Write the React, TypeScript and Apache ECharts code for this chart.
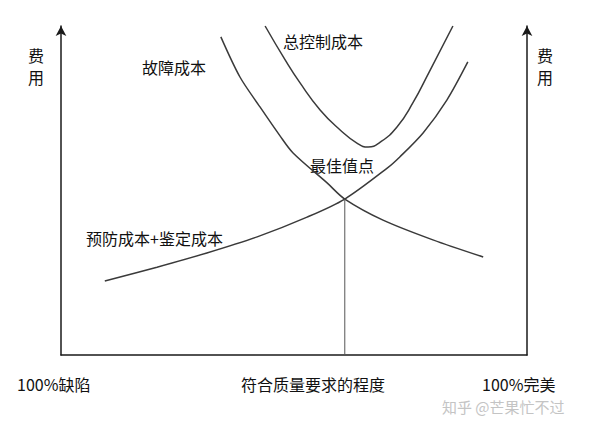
import React, { useEffect, useRef } from 'react';
import * as echarts from 'echarts';

// 横轴：符合质量要求的程度 (0 = 100%缺陷, 100 = 100%完美)，纵轴：费用
const failureX = [34.3, 38.4, 42.7, 47.0, 49.8, 57.1, 60.9, 69.1, 79.8, 90.6];
const failureY = [96.7, 84.5, 75.4, 66.6, 61.4, 52.3, 47.4, 41.0, 35.0, 29.8];

const preventionX = [9.4, 20.6, 31.3, 42.1, 52.8, 60.9, 70.0, 72.7, 77.7, 82.8, 87.3];
const preventionY = [22.5, 26.7, 31.0, 35.9, 41.9, 47.4, 56.8, 60.2, 67.5, 77.5, 89.1];

const totalX = [43.8, 48.1, 51.3, 55.6, 59.9, 63.5, 65.9, 68.5, 72.1, 75.5, 79.0, 84.1];
const totalY = [100, 89.7, 82.7, 74.5, 68.4, 64.4, 63.2, 64.7, 69.3, 76.6, 86.0, 100];

// 最佳值点
const optimumX = 60.9;
const optimumY = 47.4;

const FONT = '"Noto Sans CJK SC", sans-serif';

const pairs = (xs: number[], ys: number[]) => xs.map((x, i) => [x, ys[i]]);

const label = (text: string, left: number, top: number, color = '#111', size = 16) => ({
	type: 'text',
	left,
	top,
	style: { text, fill: color, font: `${size}px ${FONT}`, lineHeight: size }
});

const App: React.FC = () => {
	const chartRef = useRef<HTMLDivElement>(null);

	useEffect(() => {
		if (!chartRef.current) return;
		const chart = echarts.init(chartRef.current, undefined, { renderer: 'svg' });

		const axisLine = {
			show: true,
			symbol: ['none', 'arrow'],
			symbolSize: [8, 10],
			lineStyle: { color: '#1a1a1a', width: 1.5 }
		};
		const curve = { color: '#3a3a3a', width: 1.5 };
		const hidden = {
			axisTick: { show: false },
			axisLabel: { show: false },
			splitLine: { show: false }
		};

		const option: echarts.EChartsOption = {
			animation: false,
			backgroundColor: '#fff',
			grid: { left: 61, right: 73, top: 26, bottom: 74 },
			xAxis: {
				type: 'value',
				min: 0,
				max: 100,
				axisLine: { show: true, lineStyle: { color: '#1a1a1a', width: 1.5 } },
				...hidden
			},
			yAxis: [
				{ type: 'value', min: 0, max: 100, position: 'left', axisLine, ...hidden },
				{ type: 'value', min: 0, max: 100, position: 'right', axisLine, ...hidden }
			],
			series: [
				{
					name: '故障成本',
					type: 'line',
					smooth: 0.3,
					clip: false,
					showSymbol: false,
					lineStyle: curve,
					data: pairs(failureX, failureY)
				},
				{
					name: '预防成本+鉴定成本',
					type: 'line',
					smooth: 0.3,
					clip: false,
					showSymbol: false,
					lineStyle: curve,
					data: pairs(preventionX, preventionY)
				},
				{
					name: '总控制成本',
					type: 'line',
					smooth: 0.5,
					clip: false,
					showSymbol: false,
					lineStyle: curve,
					data: pairs(totalX, totalY)
				},
				{
					name: '最佳值点',
					type: 'line',
					showSymbol: false,
					lineStyle: { color: '#555', width: 1 },
					data: [
						[optimumX, 0],
						[optimumX, optimumY]
					]
				}
			],
			graphic: [
				label('费', 28, 47),
				label('用', 28, 69),
				label('费', 537, 47),
				label('用', 537, 69),
				label('故障成本', 142, 59),
				label('总控制成本', 283, 33),
				label('最佳值点', 310, 157),
				label('预防成本+鉴定成本', 86, 230),
				label('100%缺陷', 17, 376),
				label('符合质量要求的程度', 241, 376),
				label('100%完美', 482, 376),
				label('知乎 @芒果忙不过', 442, 399, '#c4c4c4', 15)
			]
		};

		chart.setOption(option);
		return () => chart.dispose();
	}, []);

	return <div ref={chartRef} style={{ position: 'absolute', left: 0, top: 0, width: 600, height: 429, background: '#fff' }} />;
};

export default App;
